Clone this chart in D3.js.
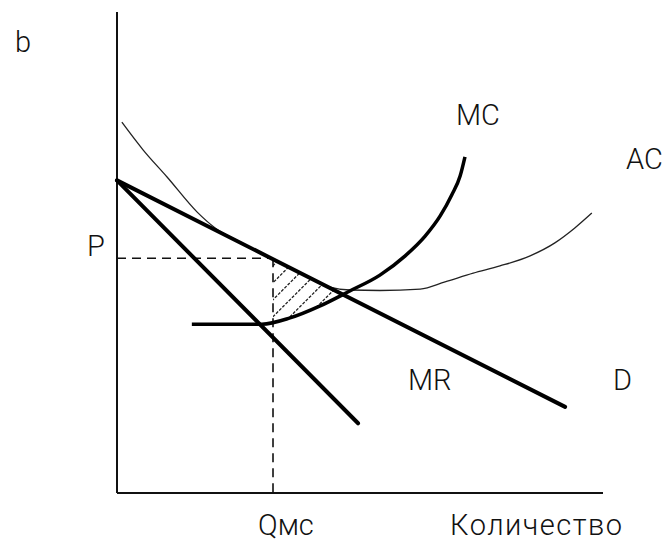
<!DOCTYPE html>
<html>
<head>
<meta charset="utf-8">
<script src="https://cdn.jsdelivr.net/npm/d3@7/dist/d3.min.js"></script>
<style>
  html, body { margin: 0; padding: 0; background: #fff; }
  svg { display: block; }
  text { font-family: Roboto, "Liberation Sans", Arial, sans-serif; font-weight: 300; fill: #111; }
</style>
</head>
<body>
<svg id="chart" width="670" height="545"></svg>
<script>
// Monopolist's output choice: demand, marginal revenue, marginal cost and average cost.
// Quantity and price are in arbitrary units on 0..10 axes.

const demand = [[0, 6.5], [9.22, 1.79]];
const marginalRevenue = [[0, 6.5], [4.96, 1.45]];
const marginalCost = [
  [1.54, 3.51], [2.98, 3.51], [3.56, 3.64], [4.18, 3.89], [4.79, 4.2],
  [5.41, 4.53], [5.93, 4.93], [6.34, 5.34], [6.65, 5.76], [6.89, 6.2],
  [7.06, 6.59], [7.16, 6.99]
];
const averageCost = [
  [0.1, 7.71], [0.54, 7.13], [1.03, 6.57], [1.65, 5.84], [2.02, 5.51],
  [2.53, 5.22], [3.15, 4.89], [3.77, 4.57], [4.38, 4.28], [4.79, 4.22],
  [5.41, 4.21], [6.24, 4.24], [6.75, 4.39], [7.33, 4.57], [7.88, 4.72],
  [8.5, 4.93], [9.01, 5.2], [9.42, 5.51], [9.77, 5.82]
];
const quantityTicks = [3.21];
const quantityTickLabels = ["Qмс"];
const priceTicks = [4.88];
const priceTickLabels = ["P"];

const curveLabels = ["MC", "AC", "MR", "D"];
const axisTitle = "Количество";
const panelLetter = "b";

const svg = d3.select("#chart");
const x = d3.scaleLinear().domain([0, 10]).range([117, 603]);
const y = d3.scaleLinear().domain([0, 10]).range([493, 12]);

const line = d3.line().x(d => x(d[0])).y(d => y(d[1]));
const smooth = d3.line().x(d => x(d[0])).y(d => y(d[1])).curve(d3.curveMonotoneX);

// Shaded triangle between demand (above) and MC (below), right of Qмс.
const q0 = quantityTicks[0];
const defs = svg.append("defs");

// Region below the demand line and right of Qмс
defs.append("clipPath").attr("id", "shade-clip")
  .append("path").attr("d",
    `M${x(q0)},${y(priceTicks[0])}` +
    `L${x(demand[1][0])},${y(demand[1][1])}` +
    `L${x(demand[1][0])},${y(0)}L${x(q0)},${y(0)}Z`);

// Region above the MC curve
const mcLast = marginalCost[marginalCost.length - 1];
defs.append("clipPath").attr("id", "mc-clip")
  .append("path").attr("d",
    `M${x(marginalCost[0][0])},${y(10)}` +
    smooth(marginalCost).replace("M", "L") +
    `L${x(mcLast[0])},${y(10)}Z`);

const hatch = svg.append("g").attr("clip-path", "url(#shade-clip)")
  .append("g").attr("clip-path", "url(#mc-clip)");
const hx0 = x(q0) - 100, hy = y(3.0);
d3.range(0, 14).forEach(k => {
  hatch.append("line")
    .attr("x1", hx0 + k * 17).attr("y1", hy)
    .attr("x2", hx0 + k * 17 + 110).attr("y2", hy - 110)
    .attr("stroke", "#222").attr("stroke-width", 1.3)
    .attr("stroke-dasharray", "3,1.5");
});

// Axes
svg.append("line")
  .attr("x1", x(0)).attr("y1", y(0)).attr("x2", x(0)).attr("y2", y(10))
  .attr("stroke", "#111").attr("stroke-width", 2);
svg.append("line")
  .attr("x1", x(0)).attr("y1", y(0)).attr("x2", x(10)).attr("y2", y(0))
  .attr("stroke", "#111").attr("stroke-width", 2);

// Dashed guides for P and Qмс
svg.append("line")
  .attr("x1", x(0)).attr("y1", y(priceTicks[0]))
  .attr("x2", x(q0)).attr("y2", y(priceTicks[0]))
  .attr("stroke", "#111").attr("stroke-width", 1.6).attr("stroke-dasharray", "9,6");
svg.append("line")
  .attr("x1", x(q0)).attr("y1", y(priceTicks[0]))
  .attr("x2", x(q0)).attr("y2", y(0))
  .attr("stroke", "#111").attr("stroke-width", 1.6).attr("stroke-dasharray", "9,6");

// Average cost (thin)
svg.append("path").attr("d", smooth(averageCost))
  .attr("fill", "none").attr("stroke", "#222").attr("stroke-width", 1.3);

// Demand and marginal revenue (thick)
svg.append("path").attr("d", line(demand))
  .attr("fill", "none").attr("stroke", "#000").attr("stroke-width", 4).attr("stroke-linecap", "round");
svg.append("path").attr("d", line(marginalRevenue))
  .attr("fill", "none").attr("stroke", "#000").attr("stroke-width", 4).attr("stroke-linecap", "round");

// Marginal cost
svg.append("path").attr("d", smooth(marginalCost))
  .attr("fill", "none").attr("stroke", "#000").attr("stroke-width", 3.5);

// Labels
const labelPos = [
  { t: curveLabels[0], x: 456, y: 125 },
  { t: curveLabels[1], x: 626, y: 169 },
  { t: curveLabels[2], x: 408, y: 390 },
  { t: curveLabels[3], x: 613, y: 390 },
  { t: panelLetter, x: 15, y: 52 },
  { t: priceTickLabels[0], x: 87, y: 256 },
  { t: quantityTickLabels[0], x: 258, y: 535 },
  { t: axisTitle, x: 450, y: 535, len: 172 }
];
svg.selectAll("text.lbl").data(labelPos).join("text")
  .attr("class", "lbl")
  .attr("x", d => d.x).attr("y", d => d.y)
  .attr("font-size", 29)
  .attr("textLength", d => d.len || null)
  .attr("lengthAdjust", "spacing")
  .text(d => d.t);
</script>
</body>
</html>
